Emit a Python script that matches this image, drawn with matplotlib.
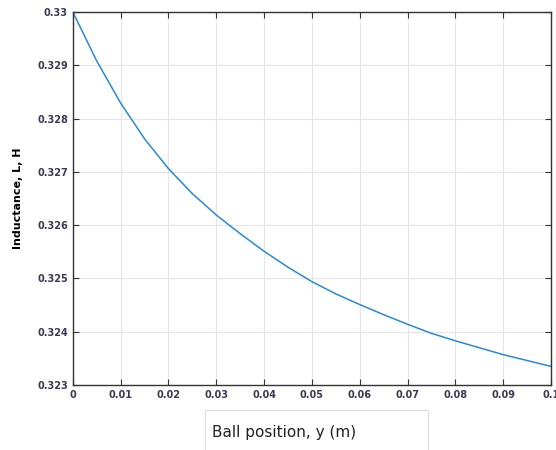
import numpy as np
import matplotlib
matplotlib.use('Agg')
import matplotlib.pyplot as plt
from matplotlib.patches import Rectangle

# ball position (m) and inductance (H)
y_pos = [0.0, 0.005, 0.01, 0.015, 0.02, 0.025, 0.03, 0.035, 0.04, 0.045, 0.05,
         0.055, 0.06, 0.065, 0.07, 0.075, 0.08, 0.085, 0.09, 0.095, 0.1]
L_ind = [0.3300, 0.32908, 0.32829, 0.32762, 0.32706, 0.32659, 0.32619, 0.32584,
         0.32551, 0.32521, 0.32494, 0.32471, 0.32451, 0.32432, 0.32414, 0.32397,
         0.32383, 0.32370, 0.32357, 0.32346, 0.32335]

xticks = [0, 0.01, 0.02, 0.03, 0.04, 0.05, 0.06, 0.07, 0.08, 0.09, 0.1]
xtick_labels = ['0', '0.01', '0.02', '0.03', '0.04', '0.05', '0.06', '0.07', '0.08', '0.09', '0.1']
yticks = [0.323, 0.324, 0.325, 0.326, 0.327, 0.328, 0.329, 0.33]
ytick_labels = ['0.323', '0.324', '0.325', '0.326', '0.327', '0.328', '0.329', '0.33']

fig = plt.figure(figsize=(5.56, 4.5), dpi=100)
ax = fig.add_axes([0.131, 0.1444, 0.86, 0.829])

ax.plot(y_pos, L_ind, color='#2a8ad2', lw=1.1)

ax.set_xlim(0, 0.1)
ax.set_ylim(0.323, 0.33)
ax.set_xticks(xticks)
ax.set_xticklabels(xtick_labels)
ax.set_yticks(yticks)
ax.set_yticklabels(ytick_labels)
ax.tick_params(direction='in', top=True, right=True, labelsize=7, length=4,
               colors='#333333', labelcolor='#3a3a55')
for lab in ax.get_xticklabels() + ax.get_yticklabels():
    lab.set_fontweight('bold')
ax.grid(True, color='#e6e6e6', lw=0.8)
for s in ax.spines.values():
    s.set_color('#333333')
    s.set_linewidth(1)

ax.set_ylabel('Inductance, L, H', fontsize=8, fontweight='bold', labelpad=10)

# x label sits in a pasted white box under the axis
box = Rectangle((205 / 556, -0.05), 223 / 556, 0.05 + 40 / 450, transform=fig.transFigure,
                facecolor='white', edgecolor='#dddddd', lw=0.8, clip_on=False)
fig.add_artist(box)
fig.text(212 / 556, 1 - 433 / 450, 'Ball position, y (m)', fontsize=11,
         color='#222222', va='center', ha='left')

fig.savefig('out.png', dpi=100)
